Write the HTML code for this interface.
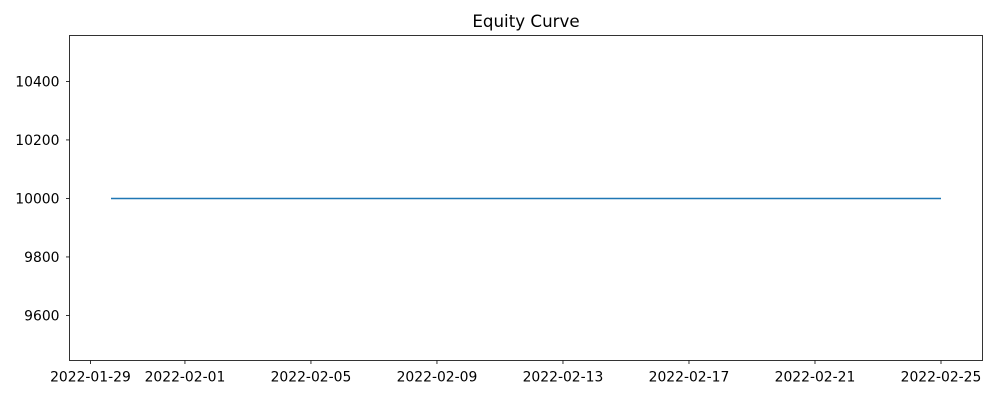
<!DOCTYPE html>
<html><head><meta charset="utf-8"><style>
body{margin:0;background:#fff;}
svg text{font-family:"DejaVu Sans","Liberation Sans",sans-serif;font-size:13.9px;fill:#000;}
</style></head><body>
<svg id="chart" width="1000" height="400">
<text x="526" y="27" text-anchor="middle" style="font-size:16.7px">Equity Curve</text>
<g id="axes"></g>
</svg>
<script>
const dates = ["2022-01-29T15:40","2022-02-05T00:00","2022-02-12T00:00","2022-02-19T00:00","2022-02-25T00:00"];
const equity = [10000,10000,10000,10000,10000];
const yTicks = [9600,9800,10000,10200,10400];
const xTicks = ["2022-01-29","2022-02-01","2022-02-05","2022-02-09","2022-02-13","2022-02-17","2022-02-21","2022-02-25"];

const L=69.5,R=982.5,T=35.5,B=360.5;
const ns="http://www.w3.org/2000/svg";
const g=document.getElementById('axes');
const t=s=>Date.parse(s+(s.length===10?"T00:00Z":"Z"));
const ts=dates.map(t);
const tmin=Math.min(...ts),tmax=Math.max(...ts),pad=(tmax-tmin)*0.05;
const x0=tmin-pad,x1=tmax+pad;
const X=v=>L+(v-x0)/(x1-x0)*(R-L);
const ymin=9446,ymax=10557;
const Y=v=>B-(v-ymin)/(ymax-ymin)*(B-T);
function mk(tag,attrs){const e=document.createElementNS(ns,tag);for(const k in attrs)e.setAttribute(k,attrs[k]);g.appendChild(e);return e;}
yTicks.forEach(v=>{
 const y=Y(v);
 const l=mk('line',{x1:L-3.5,x2:L,y1:y,y2:y,stroke:'#000','stroke-width':0.8});
 
 
 const tx=mk('text',{x:L-10,y:y+5,'text-anchor':'end'});tx.textContent=v;
 
 
});
xTicks.forEach(d=>{
 const x=X(t(d));
 const l=mk('line',{x1:x,x2:x,y1:B,y2:B+3.5,stroke:'#000','stroke-width':0.8});
 
 
 const tx=mk('text',{x:x,y:B+21,'text-anchor':'middle'});tx.textContent=d;
 
 
});
const pl=mk('polyline',{points:ts.map((v,i)=>X(v)+','+Y(equity[i])).join(' '),fill:'none',stroke:'#1f77b4','stroke-width':1.5});


const fr=mk('rect',{x:L,y:T,width:R-L,height:B-T,fill:'none',stroke:'#000','stroke-width':0.8});


</script>
</body></html>
